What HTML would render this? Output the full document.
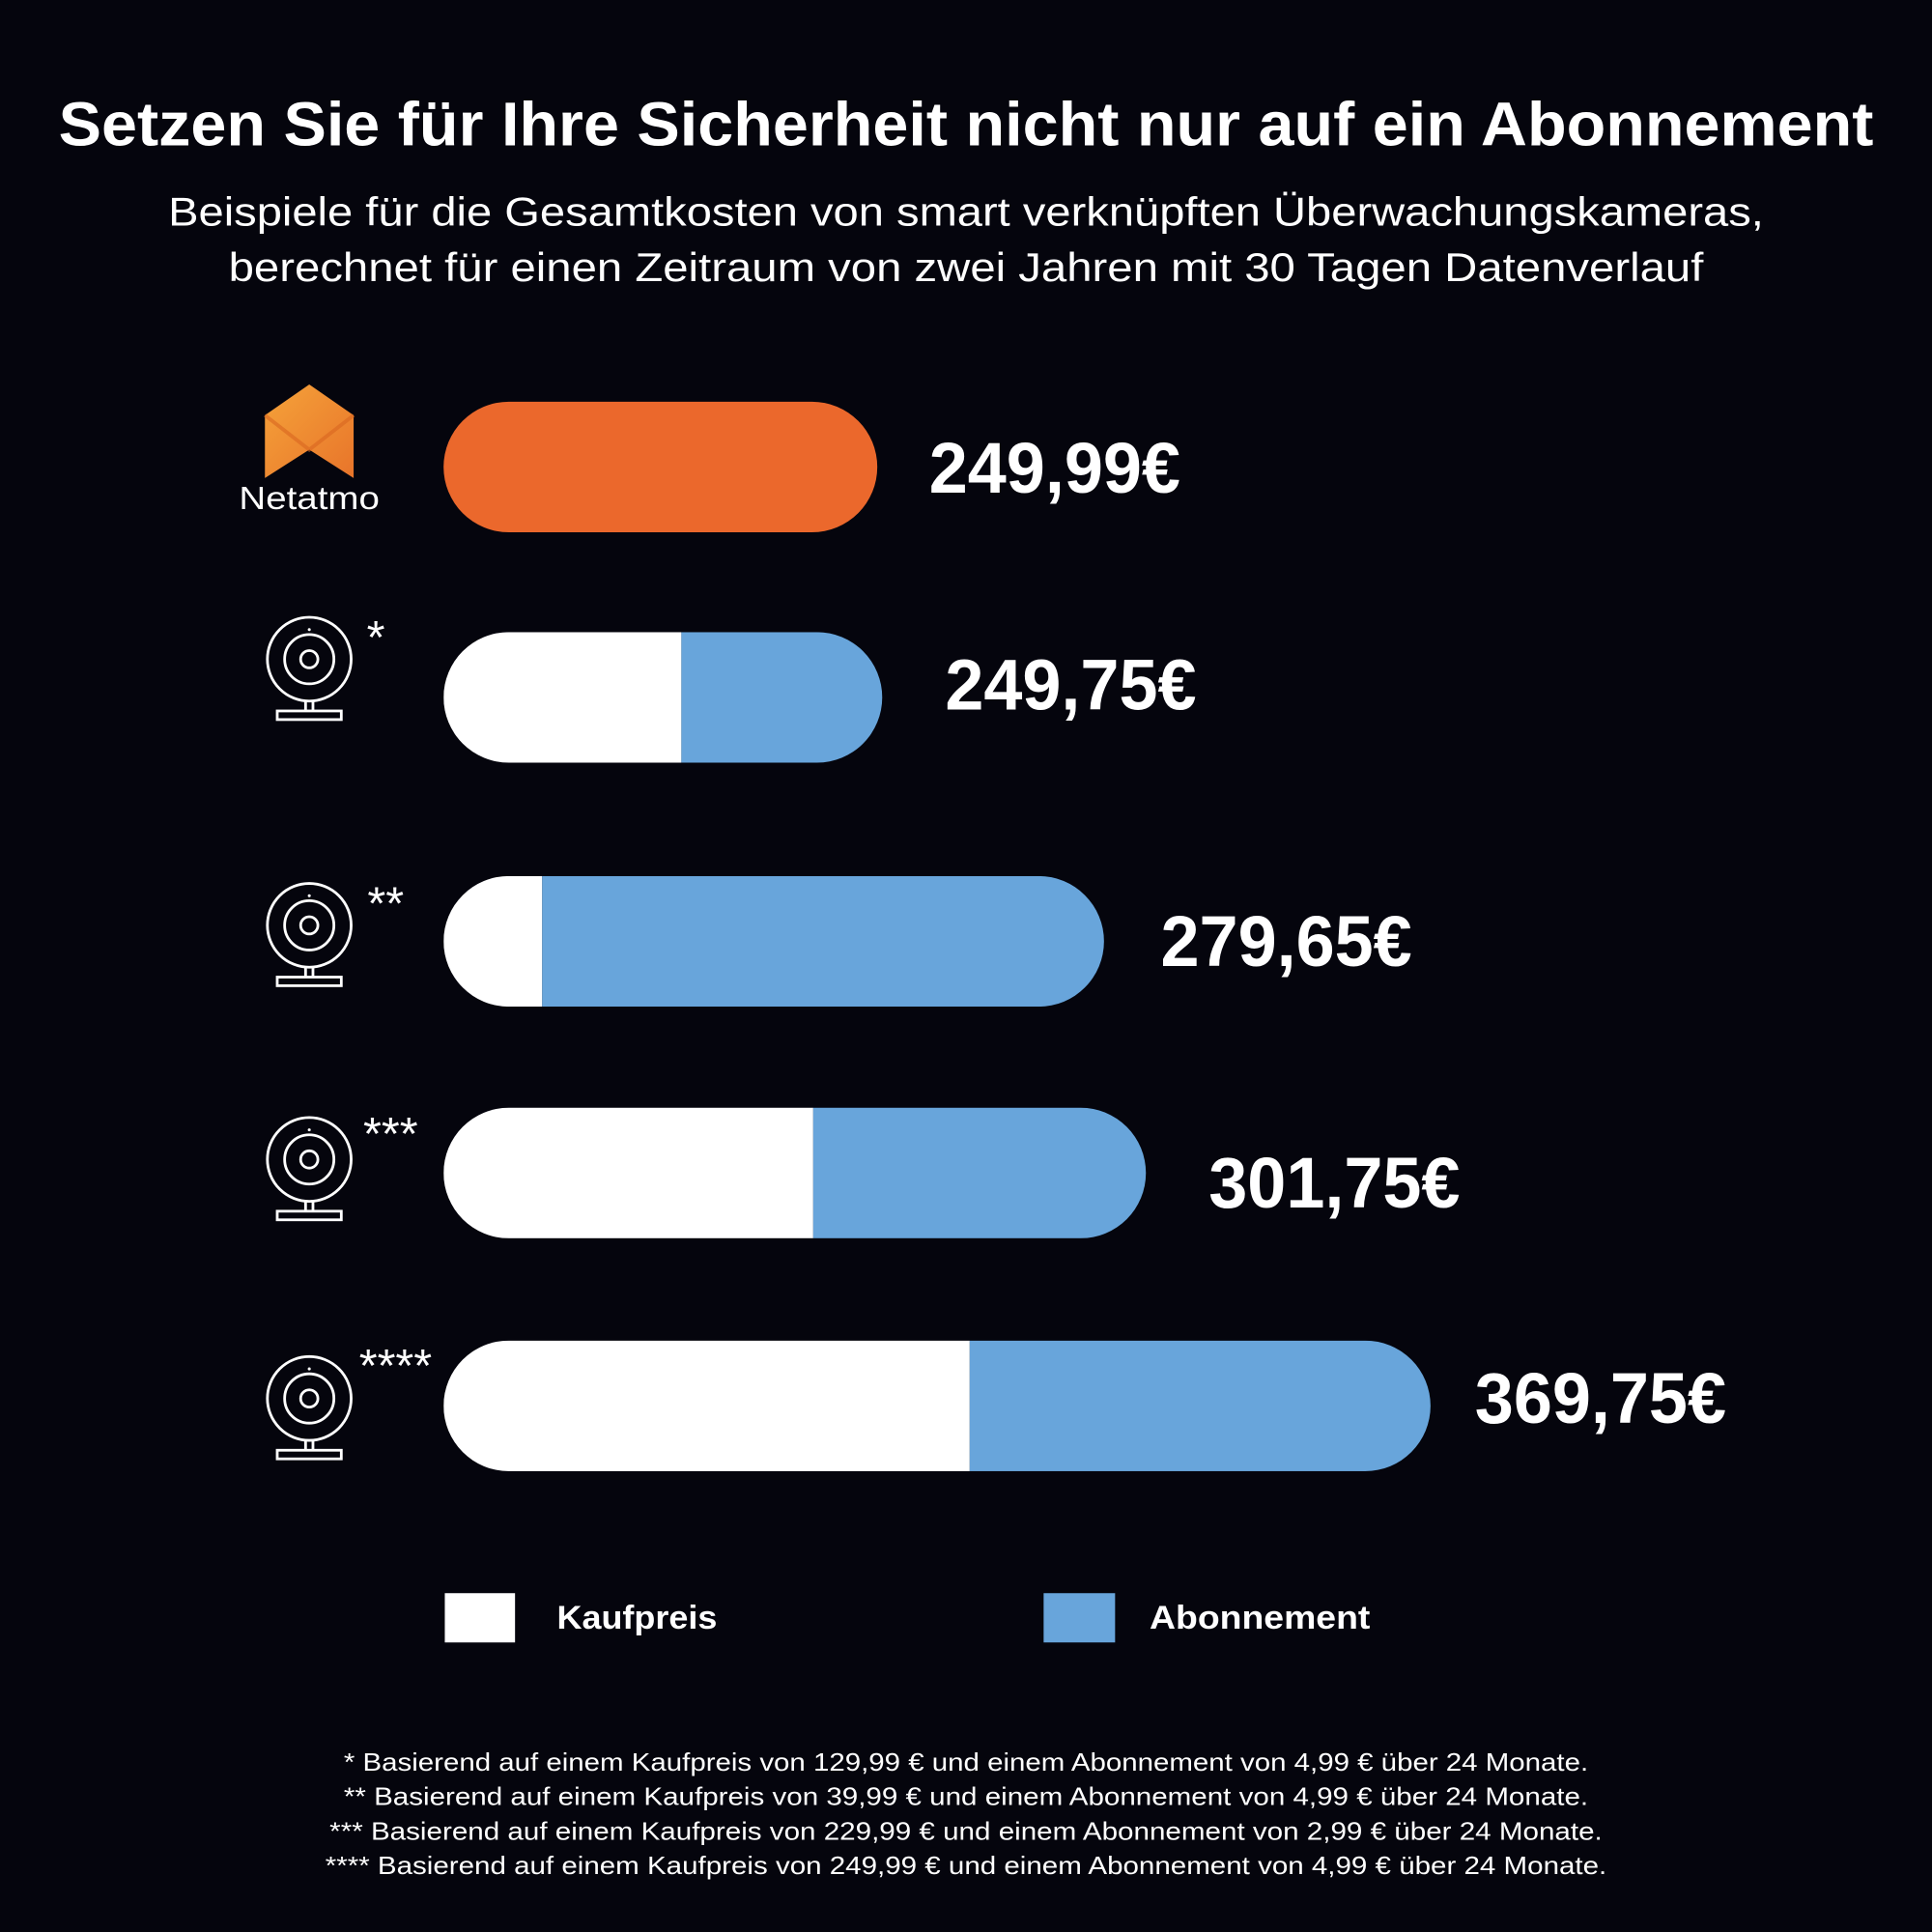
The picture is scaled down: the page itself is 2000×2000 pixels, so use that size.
<!DOCTYPE html>
<html><head><meta charset="utf-8"><style>
html,body{margin:0;padding:0;background:#05050d;}
svg{display:block;}
text{font-family:"Liberation Sans",sans-serif;fill:#fff;}
</style></head><body>
<svg width="2000" height="2000" viewBox="0 0 1568 1568" xmlns="http://www.w3.org/2000/svg">
<defs>
<linearGradient id="g" x1="0" y1="0" x2="1" y2="1"><stop offset="0" stop-color="#f5a33a"/><stop offset="1" stop-color="#e8742a"/></linearGradient>
<g id="cam" fill="none" stroke="#fff" stroke-width="2.2">
<circle cx="0" cy="0" r="34"/><circle cx="0" cy="0" r="20"/><circle cx="0" cy="0" r="7"/>
<circle cx="0" cy="-24" r="1.2" fill="#fff" stroke="none"/>
<path d="M-3 34 V42 M3 34 V42"/><rect x="-26" y="42" width="52" height="7"/>
</g>
</defs>
<rect width="1568" height="1568" fill="#05050d"/>
<text x="784" y="118" text-anchor="middle" font-size="50" font-weight="bold" textLength="1473" lengthAdjust="spacingAndGlyphs">Setzen Sie für Ihre Sicherheit nicht nur auf ein Abonnement</text>
<text x="784" y="183" text-anchor="middle" font-size="33" textLength="1295" lengthAdjust="spacingAndGlyphs">Beispiele für die Gesamtkosten von smart verknüpften Überwachungskameras,</text>
<text x="784" y="228" text-anchor="middle" font-size="33" textLength="1197" lengthAdjust="spacingAndGlyphs">berechnet für einen Zeitraum von zwei Jahren mit 30 Tagen Datenverlauf</text>

<polygon points="251,312 287,337 287,388 251,365 215,388 215,337" fill="url(#g)"/>
<polyline points="215,337 251,365 287,337" fill="none" stroke="#d9661f" stroke-width="3" opacity="0.6"/>
<text x="251" y="413" text-anchor="middle" font-size="26" textLength="114" lengthAdjust="spacingAndGlyphs">Netatmo</text>

<rect x="360" y="326" width="352" height="106" rx="53" fill="#eb682c"/>

<clipPath id="c2"><rect x="360" y="513" width="356" height="106" rx="53"/></clipPath>
<g clip-path="url(#c2)"><rect x="360" y="513" width="193" height="106" fill="#fff"/><rect x="553" y="513" width="170" height="106" fill="#68a5db"/></g>

<clipPath id="c3"><rect x="360" y="711" width="536" height="106" rx="53"/></clipPath>
<g clip-path="url(#c3)"><rect x="360" y="711" width="80" height="106" fill="#fff"/><rect x="440" y="711" width="460" height="106" fill="#68a5db"/></g>

<clipPath id="c4"><rect x="360" y="899" width="570" height="106" rx="53"/></clipPath>
<g clip-path="url(#c4)"><rect x="360" y="899" width="300" height="106" fill="#fff"/><rect x="660" y="899" width="275" height="106" fill="#68a5db"/></g>

<clipPath id="c5"><rect x="360" y="1088" width="801" height="106" rx="53"/></clipPath>
<g clip-path="url(#c5)"><rect x="360" y="1088" width="427" height="106" fill="#fff"/><rect x="787" y="1088" width="380" height="106" fill="#68a5db"/></g>

<g font-size="58" font-weight="bold">
<text x="754" y="400" textLength="204" lengthAdjust="spacingAndGlyphs">249,99€</text>
<text x="767" y="576" textLength="204" lengthAdjust="spacingAndGlyphs">249,75€</text>
<text x="942" y="784" textLength="204" lengthAdjust="spacingAndGlyphs">279,65€</text>
<text x="981" y="980" textLength="204" lengthAdjust="spacingAndGlyphs">301,75€</text>
<text x="1197" y="1155" textLength="204" lengthAdjust="spacingAndGlyphs">369,75€</text>
</g>

<use href="#cam" x="251" y="535"/>
<use href="#cam" x="251" y="751"/>
<use href="#cam" x="251" y="941"/>
<use href="#cam" x="251" y="1135"/>
<g font-size="38">
<text x="305" y="530" text-anchor="middle">*</text>
<text x="313" y="746" text-anchor="middle">**</text>
<text x="317" y="933" text-anchor="middle">***</text>
<text x="321" y="1121" text-anchor="middle">****</text>
</g>

<rect x="361" y="1293" width="57" height="40" fill="#fff"/>
<text x="452" y="1322" font-size="27" font-weight="bold" textLength="130" lengthAdjust="spacingAndGlyphs">Kaufpreis</text>
<rect x="847" y="1293" width="58" height="40" fill="#68a5db"/>
<text x="933" y="1322" font-size="27" font-weight="bold" textLength="179" lengthAdjust="spacingAndGlyphs">Abonnement</text>

<g font-size="20" text-anchor="middle">
<text x="784" y="1437" textLength="1010" lengthAdjust="spacingAndGlyphs">* Basierend auf einem Kaufpreis von 129,99 € und einem Abonnement von 4,99 € über 24 Monate.</text>
<text x="784" y="1465" textLength="1010" lengthAdjust="spacingAndGlyphs">** Basierend auf einem Kaufpreis von 39,99 € und einem Abonnement von 4,99 € über 24 Monate.</text>
<text x="784" y="1493" textLength="1033" lengthAdjust="spacingAndGlyphs">*** Basierend auf einem Kaufpreis von 229,99 € und einem Abonnement von 2,99 € über 24 Monate.</text>
<text x="784" y="1521" textLength="1040" lengthAdjust="spacingAndGlyphs">**** Basierend auf einem Kaufpreis von 249,99 € und einem Abonnement von 4,99 € über 24 Monate.</text>
</g>
</svg>
</body></html>
